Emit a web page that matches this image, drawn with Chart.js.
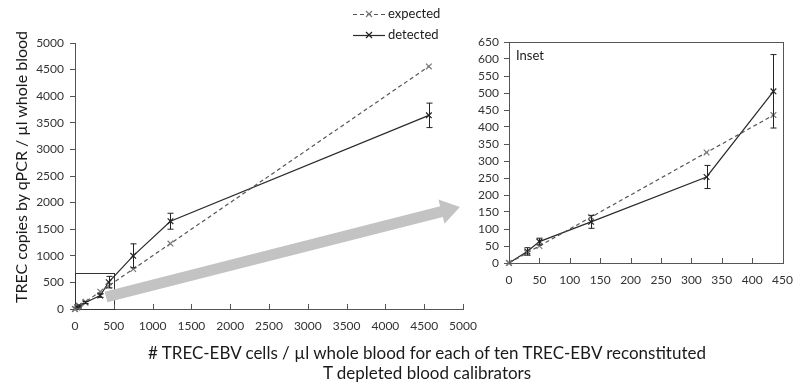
<!DOCTYPE html>
<html><head><meta charset="utf-8">
<script src="https://cdn.jsdelivr.net/npm/chart.js@4.4.0/dist/chart.umd.min.js"></script>
<style>
html,body{margin:0;padding:0;background:#fff;}
body{width:803px;height:391px;overflow:hidden;position:relative;font-family:Lato,"Open Sans",sans-serif;color:#1a1a1a;}
#mainWrap{position:absolute;left:0;top:0;width:803px;height:391px;}
#insetWrap{position:absolute;left:470px;top:0;width:333px;height:391px;}
#xtitle{position:absolute;left:77px;width:700px;top:343px;text-align:center;font-size:17px;line-height:20px;}
#ytitle{position:absolute;left:-129px;top:157px;width:300px;height:20px;line-height:20px;text-align:center;font-size:16px;transform:rotate(-90deg);transform-origin:50% 50%;white-space:nowrap;}
</style></head>
<body>
<div id="mainWrap"><canvas id="main" width="803" height="391"></canvas></div>
<div id="insetWrap"><canvas id="inset" width="333" height="391"></canvas></div>
<div id="ytitle">TREC copies by qPCR / µl whole blood</div>
<div id="xtitle"># TREC-EBV cells / µl whole blood for each of ten TREC-EBV reconstituted<br>T depleted blood calibrators</div>
<script>
// ---- data ----
const xCells      = [0, 30, 50, 135, 325, 435, 750, 1230, 4560];
const expected    = [0, 30, 50, 135, 325, 435, 750, 1230, 4560];
const detected    = [0, 34, 63, 121, 253, 505, 1000, 1650, 3640];
const detectedErr = [0, 11, 10, 19, 34, 108, 225, 150, 230];
const seriesNames = ['expected', 'detected'];
const insetLabel  = 'Inset';
const mainMax = 5000, mainStep = 500;
const insetMax = 450, insetYMax = 650, insetStep = 50;
const insetBox = {x0: 0, y0: 0, x1: 500, y1: 670};
const arrowFrom = {x: 400, y: 226}, arrowTo = {x: 4960, y: 1917};

Chart.defaults.font.family = 'Lato, "Open Sans", sans-serif';
Chart.defaults.font.size = 12;
Chart.defaults.color = '#333';
Chart.defaults.animation = false;

function pts(xs, ys, maxX){
  const out=[];
  xs.forEach((x,i)=>{ if(maxX===undefined || x<=maxX) out.push({x:x,y:ys[i]}); });
  return out;
}
function errs(xs, es, maxX){
  const out=[];
  xs.forEach((x,i)=>{ if(maxX===undefined || x<=maxX) out.push(es[i]); });
  return out;
}
const plain = v => String(v);

const errorBarPlugin = {
  id:'errbars',
  afterDatasetsDraw(chart){
    const ctx=chart.ctx, xs=chart.scales.x, ys=chart.scales.y;
    chart.data.datasets.forEach(ds=>{
      if(!ds.errors) return;
      ctx.save(); ctx.strokeStyle='#222'; ctx.lineWidth=1;
      ds.data.forEach((p,i)=>{
        const e=ds.errors[i]; if(!e) return;
        const px=Math.round(xs.getPixelForValue(p.x))+0.5;
        const yt=ys.getPixelForValue(p.y+e), yb=ys.getPixelForValue(p.y-e);
        ctx.beginPath();
        ctx.moveTo(px,yt); ctx.lineTo(px,yb);
        ctx.moveTo(px-3,yt); ctx.lineTo(px+3,yt);
        ctx.moveTo(px-3,yb); ctx.lineTo(px+3,yb);
        ctx.stroke();
      });
      ctx.restore();
    });
  }
};
const innerXTicks = {
  id:'innerXTicks',
  afterDraw(chart){
    const ctx=chart.ctx, xs=chart.scales.x, b=chart.chartArea.bottom;
    ctx.save(); ctx.strokeStyle='#555'; ctx.lineWidth=1;
    xs.ticks.forEach((t,i)=>{
      const px=Math.round(xs.getPixelForTick(i))+0.5;
      ctx.beginPath(); ctx.moveTo(px,b); ctx.lineTo(px,b-5); ctx.stroke();
    });
    ctx.restore();
  }
};

function dsCommon(){
  return {showLine:true, pointStyle:'crossRot', pointRadius:4, pointBorderWidth:1.2, borderWidth:1.2, clip:false, fill:false};
}
function makeDatasets(maxX){
  return [
    Object.assign(dsCommon(), {label:seriesNames[0], data:pts(xCells, expected, maxX), borderColor:'#555', borderDash:[4,3], pointBorderColor:'#777', pointBackgroundColor:'#777'}),
    Object.assign(dsCommon(), {label:seriesNames[1], data:pts(xCells, detected, maxX), errors:errs(xCells, detectedErr, maxX), borderColor:'#2a2a2a', pointBorderColor:'#222', pointBackgroundColor:'#222'})
  ];
}

const mainOverlay = {
  id:'mainOverlay',
  beforeDatasetsDraw(chart){
    const ctx=chart.ctx, xs=chart.scales.x, ys=chart.scales.y;
    const x0=Math.round(xs.getPixelForValue(insetBox.x0))+0.5, x1=Math.round(xs.getPixelForValue(insetBox.x1))+0.5;
    const y0=Math.round(ys.getPixelForValue(insetBox.y0))+0.5, y1=Math.round(ys.getPixelForValue(insetBox.y1))+0.5;
    ctx.save(); ctx.strokeStyle='#333'; ctx.lineWidth=1;
    ctx.strokeRect(x0,y1,x1-x0,y0-y1); ctx.restore();
  },
  afterDraw(chart){
    const ctx=chart.ctx, xs=chart.scales.x, ys=chart.scales.y;
    const ax=xs.getPixelForValue(arrowFrom.x), ay=ys.getPixelForValue(arrowFrom.y);
    const bx=xs.getPixelForValue(arrowTo.x), by=ys.getPixelForValue(arrowTo.y);
    const dx=bx-ax, dy=by-ay, L=Math.hypot(dx,dy), ux=dx/L, uy=dy/L, nx=-uy, ny=ux;
    const sw=5.5, hw=12.5, hl=19;
    const hx=bx-ux*hl, hy=by-uy*hl;
    ctx.save(); ctx.fillStyle='#c3c3c3';
    ctx.beginPath();
    ctx.moveTo(ax+nx*sw, ay+ny*sw);
    ctx.lineTo(hx+nx*sw, hy+ny*sw);
    ctx.lineTo(hx+nx*hw, hy+ny*hw);
    ctx.lineTo(bx, by);
    ctx.lineTo(hx-nx*hw, hy-ny*hw);
    ctx.lineTo(hx-nx*sw, hy-ny*sw);
    ctx.lineTo(ax-nx*sw, ay-ny*sw);
    ctx.closePath(); ctx.fill(); ctx.restore();
    const items=[{y:14, dash:[4,3], col:'#555', pc:'#777'}, {y:35, dash:[], col:'#2a2a2a', pc:'#222'}];
    ctx.save();
    items.forEach((it,i)=>{
      ctx.strokeStyle=it.col; ctx.lineWidth=1.2; ctx.setLineDash(it.dash);
      ctx.beginPath(); ctx.moveTo(353,it.y+0.5); ctx.lineTo(385,it.y+0.5); ctx.stroke();
      ctx.setLineDash([]); ctx.strokeStyle=it.pc;
      ctx.beginPath(); ctx.moveTo(366,it.y-3); ctx.lineTo(372,it.y+3); ctx.moveTo(372,it.y-3); ctx.lineTo(366,it.y+3); ctx.stroke();
      ctx.fillStyle='#1a1a1a'; ctx.font='13px Lato, "Open Sans", sans-serif'; ctx.textBaseline='middle'; ctx.textAlign='left';
      ctx.fillText(seriesNames[i], 388, it.y);
    });
    ctx.restore();
  }
};

new Chart(document.getElementById('main'), {
  type:'scatter',
  data:{datasets:makeDatasets()},
  options:{
    responsive:false, maintainAspectRatio:false,
    layout:{padding:{left:0, top:43, right:340, bottom:52}},
    plugins:{legend:{display:false}, tooltip:{enabled:false}},
    scales:{
      x:{type:'linear', min:0, max:mainMax,
         ticks:{stepSize:mainStep, padding:10, color:'#333', maxRotation:0, autoSkip:false, callback:plain},
         grid:{drawOnChartArea:false, drawTicks:false}, border:{color:'#555'},
         afterFit(s){ s.height=30; }},
      y:{type:'linear', min:0, max:mainMax,
         ticks:{stepSize:mainStep, padding:6, color:'#333', autoSkip:false, callback:plain},
         grid:{drawOnChartArea:false, drawTicks:true, tickLength:5, color:'#555'}, border:{color:'#555'},
         afterFit(s){ s.width=75; }}
    }
  },
  plugins:[mainOverlay, errorBarPlugin, innerXTicks]
});

const insetFrame = {
  id:'insetFrame',
  afterDraw(chart){
    const ctx=chart.ctx, a=chart.chartArea;
    ctx.save(); ctx.strokeStyle='#555'; ctx.lineWidth=1;
    ctx.strokeRect(Math.round(a.left)+0.5, Math.round(a.top)+0.5, Math.round(a.right-a.left), Math.round(a.bottom-a.top));
    ctx.fillStyle='#1a1a1a'; ctx.font='13px Lato, "Open Sans", sans-serif'; ctx.textBaseline='middle';
    ctx.fillText(insetLabel, a.left+7, a.top+14);
    ctx.restore();
  }
};

new Chart(document.getElementById('inset'), {
  type:'scatter',
  data:{datasets:makeDatasets(insetMax)},
  options:{
    responsive:false, maintainAspectRatio:false,
    layout:{padding:{left:0, top:42, right:14, bottom:98}},
    plugins:{legend:{display:false}, tooltip:{enabled:false}},
    scales:{
      x:{type:'linear', min:0, max:insetMax,
         ticks:{stepSize:insetStep, padding:10, color:'#333', maxRotation:0, autoSkip:false, callback:plain},
         grid:{drawOnChartArea:false, drawTicks:false}, border:{color:'#555'},
         afterFit(s){ s.height=30; }},
      y:{type:'linear', min:0, max:insetYMax,
         ticks:{stepSize:insetStep, padding:5, color:'#333', autoSkip:false, callback:plain},
         grid:{drawOnChartArea:false, drawTicks:true, tickLength:5, color:'#555'}, border:{color:'#555'},
         afterFit(s){ s.width=39; }}
    }
  },
  plugins:[errorBarPlugin, innerXTicks, insetFrame]
});
</script>
</body></html>
